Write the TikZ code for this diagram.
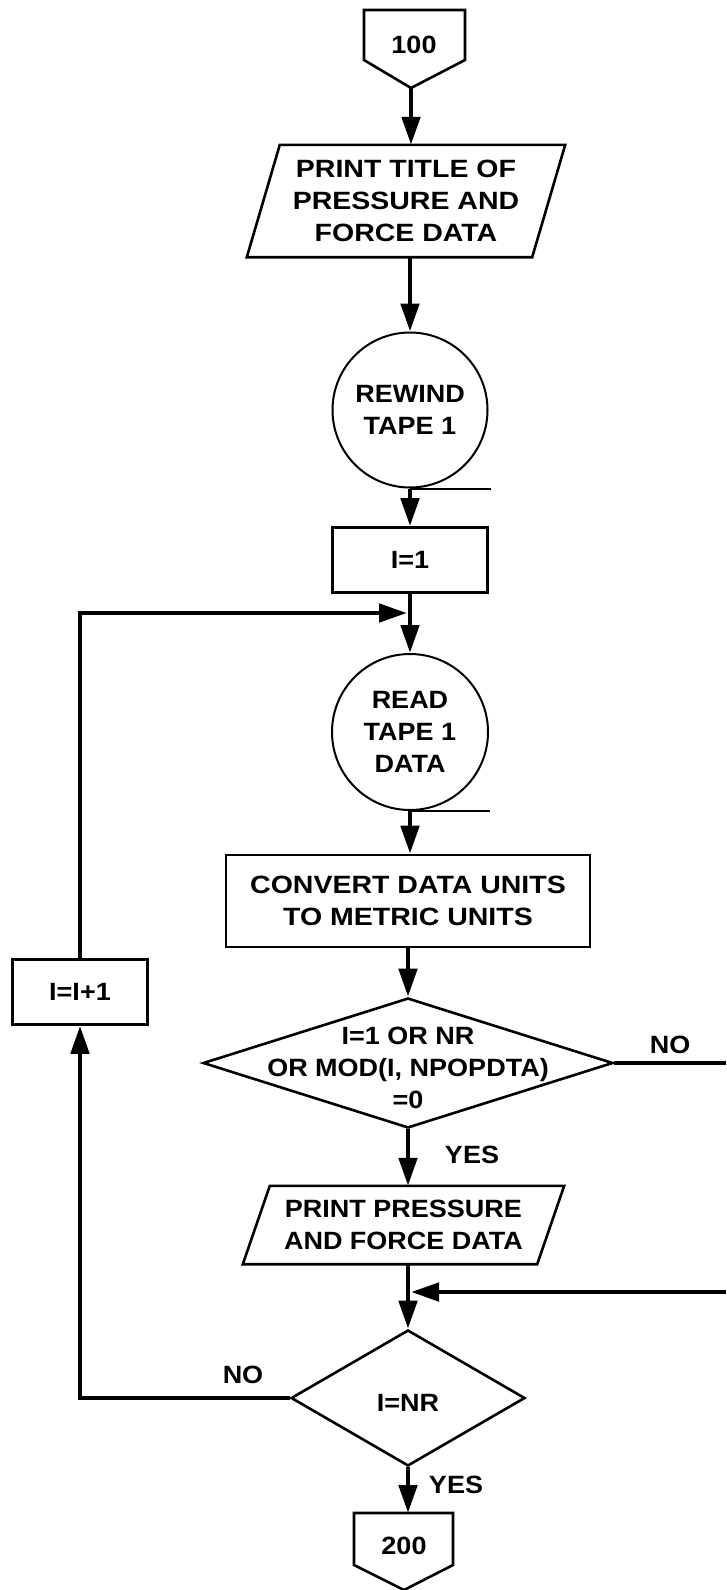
\documentclass[tikz,border=0pt]{standalone}
\usepackage{fontspec}
\setmainfont{Liberation Sans}[FakeStretch=1.08, UprightFont=*, BoldFont=* Bold]
\newfontfamily\wfont{Liberation Sans}[FakeStretch=1.14, UprightFont=*, BoldFont=* Bold]
\usetikzlibrary{arrows.meta,shapes.geometric,calc}
\begin{document}
\begin{tikzpicture}[x=1pt,y=-1pt,
  every node/.style={font=\bfseries\fontsize{25}{32}\selectfont, inner sep=0pt, align=center},
  widetext/.style={font=\wfont\bfseries\fontsize{25}{32}\selectfont},
  conn/.style={line width=4.8pt},
  arr/.style={conn, -{Triangle[length=28pt,width=18pt]}},
  outline/.style={line width=2.6pt, line join=miter},
  procbox/.style={draw, outline, rectangle},
  tapecirc/.style={draw, line width=2pt, circle},
  decis/.style={draw, outline, diamond},
  tail/.style={line width=2pt}
]
\fill[white] (0,0) rectangle (726,1590);
\useasboundingbox (0,0) rectangle (726,1590);

% off-page connector 100
\node (c100) at (414,45) {100};
\draw[outline] (364,10) -- (465,10) -- (465,60) -- (411,88) -- (364,60) -- cycle;
\coordinate (c100b) at (411,88);

% parallelogram 1
\node (p1) [minimum width=285pt, minimum height=112pt, widetext] at (406,201)
  {PRINT TITLE OF\\PRESSURE AND\\FORCE DATA};
\draw[outline] ([xshift=16.5pt]p1.north west) -- ([xshift=16.5pt]p1.north east)
  -- ([xshift=-16.5pt]p1.south east) -- ([xshift=-16.5pt]p1.south west) -- cycle;

% rewind tape
\node (r1) [tapecirc, minimum size=155pt] at (410,410) {REWIND\\TAPE 1};
\draw[tail] (r1.south) -- ++(81,0);

% I=1
\node (i1) [procbox, minimum width=155pt, minimum height=65pt] at (410,560) {I=1};

% read tape
\node (r2) [tapecirc, minimum size=156pt] at (410,732) {READ\\TAPE 1\\DATA};
\draw[tail] (r2.south) -- ++(80,0);

% convert
\node (conv) [procbox, minimum width=364pt, minimum height=92pt, widetext] at (408,901)
  {CONVERT DATA UNITS\\TO METRIC UNITS};

% decision 1
\node (d1) [decis, minimum width=410pt, minimum height=130pt] at (408,1063) {};
\node (d1t) at (408,1068) {I=1 OR NR\\OR MOD(I, NPOPDTA)\\=0};
\node (no1) at (670,1045) {NO};
\node (yes1) at (472,1155) {YES};

% parallelogram 2
\node (p2) [minimum width=294pt, minimum height=78pt] at (403.5,1225)
  {PRINT PRESSURE\\AND FORCE DATA};
\draw[outline] ([xshift=13.5pt]p2.north west) -- ([xshift=13.5pt]p2.north east)
  -- ([xshift=-13.5pt]p2.south east) -- ([xshift=-13.5pt]p2.south west) -- cycle;

% decision 2
\node (d2) [decis, minimum width=234pt, minimum height=136pt] at (408,1398) {};
\node (d2t) at (408,1403) {I=NR};
\node (no2) at (243,1375) {NO};
\node (yes2) at (456,1485) {YES};

% I=I+1
\node (inc) [procbox, minimum width=135pt, minimum height=65pt] at (80,992) {I=I+1};

% off-page connector 200
\node (c200) at (404,1546) {200};
\draw[outline] (354,1513) -- (453,1513) -- (453,1565) -- (404,1590) -- (354,1565) -- cycle;
\coordinate (c200t) at (404,1513);

% junction coordinates
\coordinate (jn1) at (407,613);
\coordinate (jn2) at (411,1292);
\coordinate (rt1) at (726,1063);
\coordinate (rt2) at (726,1292);

% connectors
\draw[arr] (c100b) -- (c100b |- p1.north);
\draw[arr] (r1.north |- p1.south) -- (r1.north);
\draw[arr] (r1.south) -- (i1.north);
\draw[arr] (i1.south) -- (r2.north);
\draw[arr] (r2.south) -- (r2.south |- conv.north);
\draw[arr] (d1.north |- conv.south) -- (d1.north);
\draw[arr] (d1.south) -- (d1.south |- p2.north);
\draw[arr] (d2.north |- p2.south) -- (d2.north);
\draw[arr] (d2.south) -- (d2.south |- c200t);
\draw[conn] (d1.east) -- (d1.east -| rt1);
\draw[arr] (rt2) -- (jn2);
\draw[arr] (d2.west) -- (d2.west -| inc.south) -- (inc.south);
\draw[arr] (inc.north) -- (inc.north |- jn1) -- (jn1);
\end{tikzpicture}
\end{document}
